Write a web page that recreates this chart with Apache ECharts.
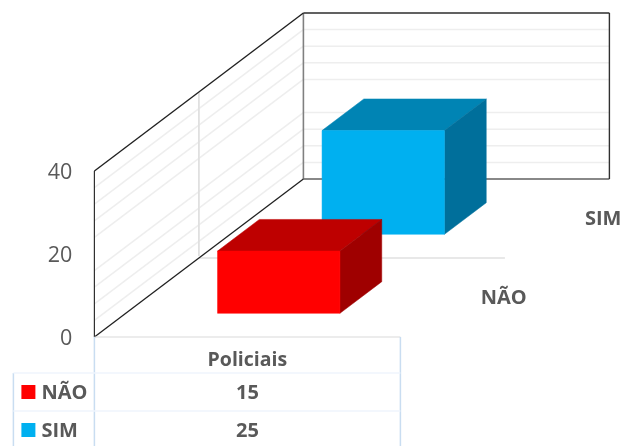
<!DOCTYPE html>
<html><head><meta charset="utf-8">
<style>html,body{margin:0;padding:0;background:#fff}#c{width:624px;height:446px}</style>
<script src="https://cdn.jsdelivr.net/npm/echarts@6/dist/echarts.min.js"></script>
</head><body><div id="c"></div>
<script>
const categories = ['Policiais'];
const seriesNames = ['NÃO', 'SIM'];
const naoValues = [15];
const simValues = [25];
const valueTicks = [0, 20, 40];
const faintGridValues = [4, 8, 12, 16, 24, 28, 32, 36, 40];

const INK = '#595959';
const FONT = '"Open Sans", sans-serif';
const STEP_X = 104.5, STEP_Y = -79;      // oblique shift for one depth slot
const BAR_FROM = 0.3, BAR_TO = 0.7;      // bar span within its slot
const looks = [
  {front: '#FF0000', top: '#BE0000', side: '#9F0000'},
  {front: '#00B0F0', top: '#0084B4', side: '#006F9B'}
];

function projector(api) {
  const band = api.size([1, 0])[0];
  return (cat, frac, val, depth) => {
    const c = api.coord([cat, val]);
    return [c[0] + (frac - 0.5) * band + depth * STEP_X, c[1] + depth * STEP_Y];
  };
}
const seg = (a, b, stroke, w) => ({type: 'line', shape: {x1: a[0], y1: a[1], x2: b[0], y2: b[1]}, style: {stroke, lineWidth: w}});
const poly = (pts, fill) => ({type: 'polygon', shape: {points: pts}, style: {fill, stroke: fill, lineWidth: 0.5}});
const txt = (x, y, text, size, bold, align) => ({type: 'text', x, y, style: {text, fill: INK, align: align || 'center', verticalAlign: 'middle', font: (bold ? 'bold ' : '') + size + 'px ' + FONT}});

function renderWalls(params, api) {
  const P = projector(api), kids = [], n = seriesNames.length;
  faintGridValues.forEach(v => {
    kids.push(seg(P(0, 0, v, 0), P(0, 0, v, n), '#EEEEEE', 1.5));
    kids.push(seg(P(0, 0, v, n), P(0, 1, v, n), '#EEEEEE', 1.5));
  });
  kids.push(seg(P(0, 0, 0.5, 1), P(0, 0, 40, 1), '#E0E0E0', 1.8));
  kids.push(seg(P(0, 0, 0, 1), P(0, 1, 0, 1), '#E0E0E0', 1.6));
  kids.push(seg(P(0, 0, 0, n), P(0, 0, 40, n), '#808080', 1.6));
  kids.push(seg(P(0, 0, 0, n), P(0, 1, 0, n), '#606060', 1.4));
  kids.push(seg(P(0, 0, 40, n), P(0, 1, 40, n), '#303030', 1.4));
  kids.push(seg(P(0, 1, 0, n), P(0, 1, 40, n), '#303030', 1.4));
  kids.push(seg(P(0, 0, 0, 0), P(0, 0, 40, 0), '#303030', 1.2));
  kids.push(seg(P(0, 0, 0, 0), P(0, 0, 0, n), '#202020', 1.3));
  kids.push(seg(P(0, 0, 40, 0), P(0, 0, 40, n), '#202020', 1.3));
  seriesNames.forEach((name, i) => {
    const a = P(0, 1, 0, i + 0.5);
    kids.push(txt(a[0] + 51 - 5 * i, a[1] + 1, name, 20, true));
  });
  return {type: 'group', children: kids};
}

function barRenderer(slot) {
  return function (params, api) {
    const P = projector(api), cat = api.value(0), v = api.value(1), L = looks[slot];
    const d0 = slot + BAR_FROM, d1 = slot + BAR_TO;
    return {type: 'group', children: [
      poly([P(cat, BAR_FROM, v, d0), P(cat, BAR_TO, v, d0), P(cat, BAR_TO, v, d1), P(cat, BAR_FROM, v, d1)], L.top),
      poly([P(cat, BAR_TO, 0, d0), P(cat, BAR_TO, 0, d1), P(cat, BAR_TO, v, d1), P(cat, BAR_TO, v, d0)], L.side),
      poly([P(cat, BAR_FROM, 0, d0), P(cat, BAR_TO, 0, d0), P(cat, BAR_TO, v, d0), P(cat, BAR_FROM, v, d0)], L.front)
    ]};
  };
}

function renderTable(params, api) {
  const P = projector(api), o = P(0, 0, 0, 0), e = P(0, 1, 0, 0);
  const x0 = o[0], x1 = e[0], y0 = o[1], mid = (x0 + x1) / 2;
  const rowY = [y0 + 36, y0 + 74], H = 446;
  const keyX = x0 - 73, labelX = x0 - 53, leftX = x0 - 81;
  const edge = '#C9DDF1', soft = '#EFF5FC';
  const kids = [
    seg([x0, y0], [x1, y0], '#DADADA', 1.2),
    seg([x0, y0], [x0, H], edge, 1.5),
    seg([x1, y0], [x1, H], edge, 1.5),
    seg([leftX, rowY[0]], [leftX, H], edge, 1.5),
    txt(mid, y0 + 23, categories[0], 19.5, true)
  ];
  seriesNames.forEach((name, i) => {
    const vals = i === 0 ? naoValues : simValues, ty = rowY[i];
    kids.push(seg([leftX, ty], [x1, ty], soft, 1.5));
    kids.push({type: 'rect', shape: {x: keyX, y: ty + 12, width: 14, height: 14}, style: {fill: looks[i].front}});
    kids.push(txt(labelX, ty + 20.5, name, 20, true, 'left'));
    kids.push(txt(mid, ty + 20.5, String(vals[0]), 20, true));
  });
  return {type: 'group', children: kids};
}

const chart = echarts.init(document.getElementById('c'), null, {renderer: 'canvas'});
chart.setOption({
  animation: false,
  backgroundColor: '#fff',
  grid: {left: 94.4, top: 171, width: 306, height: 166, containLabel: false},
  xAxis: {type: 'category', data: categories, boundaryGap: true, show: false},
  yAxis: {
    type: 'value', min: valueTicks[0], max: valueTicks[2], interval: valueTicks[1],
    axisLine: {show: false}, axisTick: {show: false}, splitLine: {show: false},
    axisLabel: {color: INK, fontSize: 21.5, fontFamily: FONT, margin: 22, verticalAlign: 'top', lineHeight: 4}
  },
  series: [
    {type: 'custom', name: 'walls', z: 1, silent: true, data: [[0, 0]], renderItem: renderWalls, clip: false},
    {type: 'custom', name: seriesNames[1], z: 2, data: simValues.map((v, i) => [i, v]), renderItem: barRenderer(1), clip: false},
    {type: 'custom', name: seriesNames[0], z: 3, data: naoValues.map((v, i) => [i, v]), renderItem: barRenderer(0), clip: false},
    {type: 'custom', name: 'table', z: 4, silent: true, data: [[0, 0]], renderItem: renderTable, clip: false}
  ]
});
</script></body></html>
